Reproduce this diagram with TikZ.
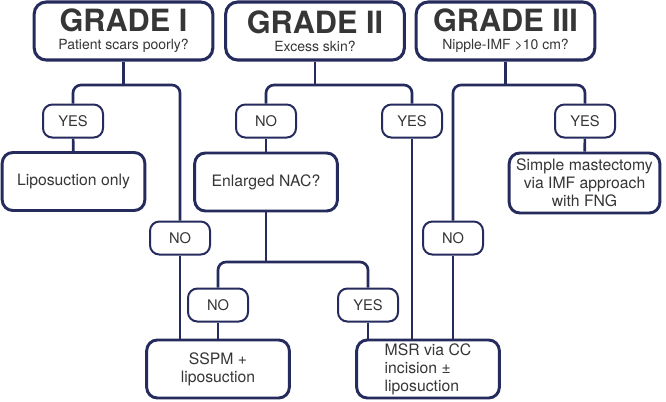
\documentclass[tikz,border=0pt]{standalone}
\usepackage{fontspec}
\setmainfont{TeX Gyre Heros}

\definecolor{navy}{HTML}{262B5E}
\definecolor{ink}{HTML}{363636}

\newcommand\gradefont{\fontsize{23}{24}\selectfont\bfseries}
\newcommand\askfont{\fontsize{10.5}{12}\selectfont}

\tikzset{
  gradebox/.style={draw=navy, line width=2.3pt, rounded corners=9pt, fill=white,
    text=ink, align=center, minimum width=134pt, minimum height=43.5pt, inner sep=0pt},
  actbox/.style={draw=navy, line width=2.2pt, rounded corners=8pt, fill=white,
    text=ink, align=center, minimum width=107pt, minimum height=43.5pt, inner sep=0pt,
    font=\fontsize{11.8}{13.5}\selectfont},
  ansbox/.style={draw=navy, line width=1.5pt, rounded corners=7pt, fill=white,
    text=ink, minimum width=45pt, minimum height=24.75pt, inner sep=0pt,
    font=\fontsize{11}{13}\selectfont},
  link/.style={draw=navy, line width=2pt},
  elbow/.style={link, rounded corners=6pt}
}

\begin{document}
\begin{tikzpicture}[x=0.75pt,y=-0.75pt]
\useasboundingbox (0,0) rectangle (666,401);

% grades
\node[gradebox] (g1) at (123.5,31) {{\gradefont GRADE I}\\[1.5pt]{\askfont Patient scars poorly?}};
\node[gradebox] (g2) at (315,31) {{\gradefont GRADE II}\\[1.5pt]{\askfont Excess skin?}};
\node[gradebox] (g3) at (505.5,31) {{\gradefont GRADE III}\\[1.5pt]{\askfont Nipple-IMF >10 cm?}};

% answers
\node[ansbox] (yes1) at (73,121) {YES};
\node[ansbox] (no1) at (180,238) {NO};
\node[ansbox] (no2) at (266,121) {NO};
\node[ansbox] (yes2) at (412,121) {YES};
\node[ansbox] (yes3) at (585,121) {YES};
\node[ansbox] (no3) at (453,238) {NO};
\node[ansbox] (no4) at (218,305) {NO};
\node[ansbox] (yes4) at (368,305) {YES};

% outcomes
\node[actbox] (lipo) at (73.5,181.5) {Liposuction only};
\node[actbox] (nac) at (266,182) {Enlarged NAC?};
\node[actbox, minimum width=113pt, minimum height=45pt] (mast) at (584.5,183)
  {Simple mastectomy\\via IMF approach\\with FNG};
\node[actbox] (sspm) at (218,369) {SSPM +\\liposuction};
\node[actbox, align=left] (msr) at (428,369) {MSR via CC\\incision ±\\liposuction};

% junctions
\coordinate (j1) at (g1.south |- 0,85);
\coordinate (j2) at (g2.south |- 0,85);
\coordinate (j3) at (g3.south |- 0,85);
\coordinate (jn) at (nac.south |- 0,262);

% grade I
\draw[link] (g1.south) -- (j1);
\draw[elbow] (yes1.north) |- (j1) -| (no1.north);
\draw[link] (yes1) -- (lipo);
\draw[link] (no1.south) -- (no1.south |- sspm.north);

% grade II
\draw[link] (g2.south) -- (j2);
\draw[elbow] (no2.north) |- (j2) -| (yes2.north);
\draw[link] (no2) -- (nac);
\draw[link] (yes2.south) -- (yes2.south |- msr.north);
\draw[link] (nac.south) -- (jn);
\draw[elbow] (no4.north) |- (jn) -| (yes4.north);
\draw[link] (no4.south) -- (no4.south |- sspm.north);
\draw[link] (yes4.south) -- (yes4.south |- msr.north);

% grade III
\draw[link] (g3.south) -- (j3);
\draw[elbow] (no3.north) |- (j3) -| (yes3.north);
\draw[link] (yes3) -- (mast);
\draw[link] (no3.south) -- (no3.south |- msr.north);
\end{tikzpicture}
\end{document}
